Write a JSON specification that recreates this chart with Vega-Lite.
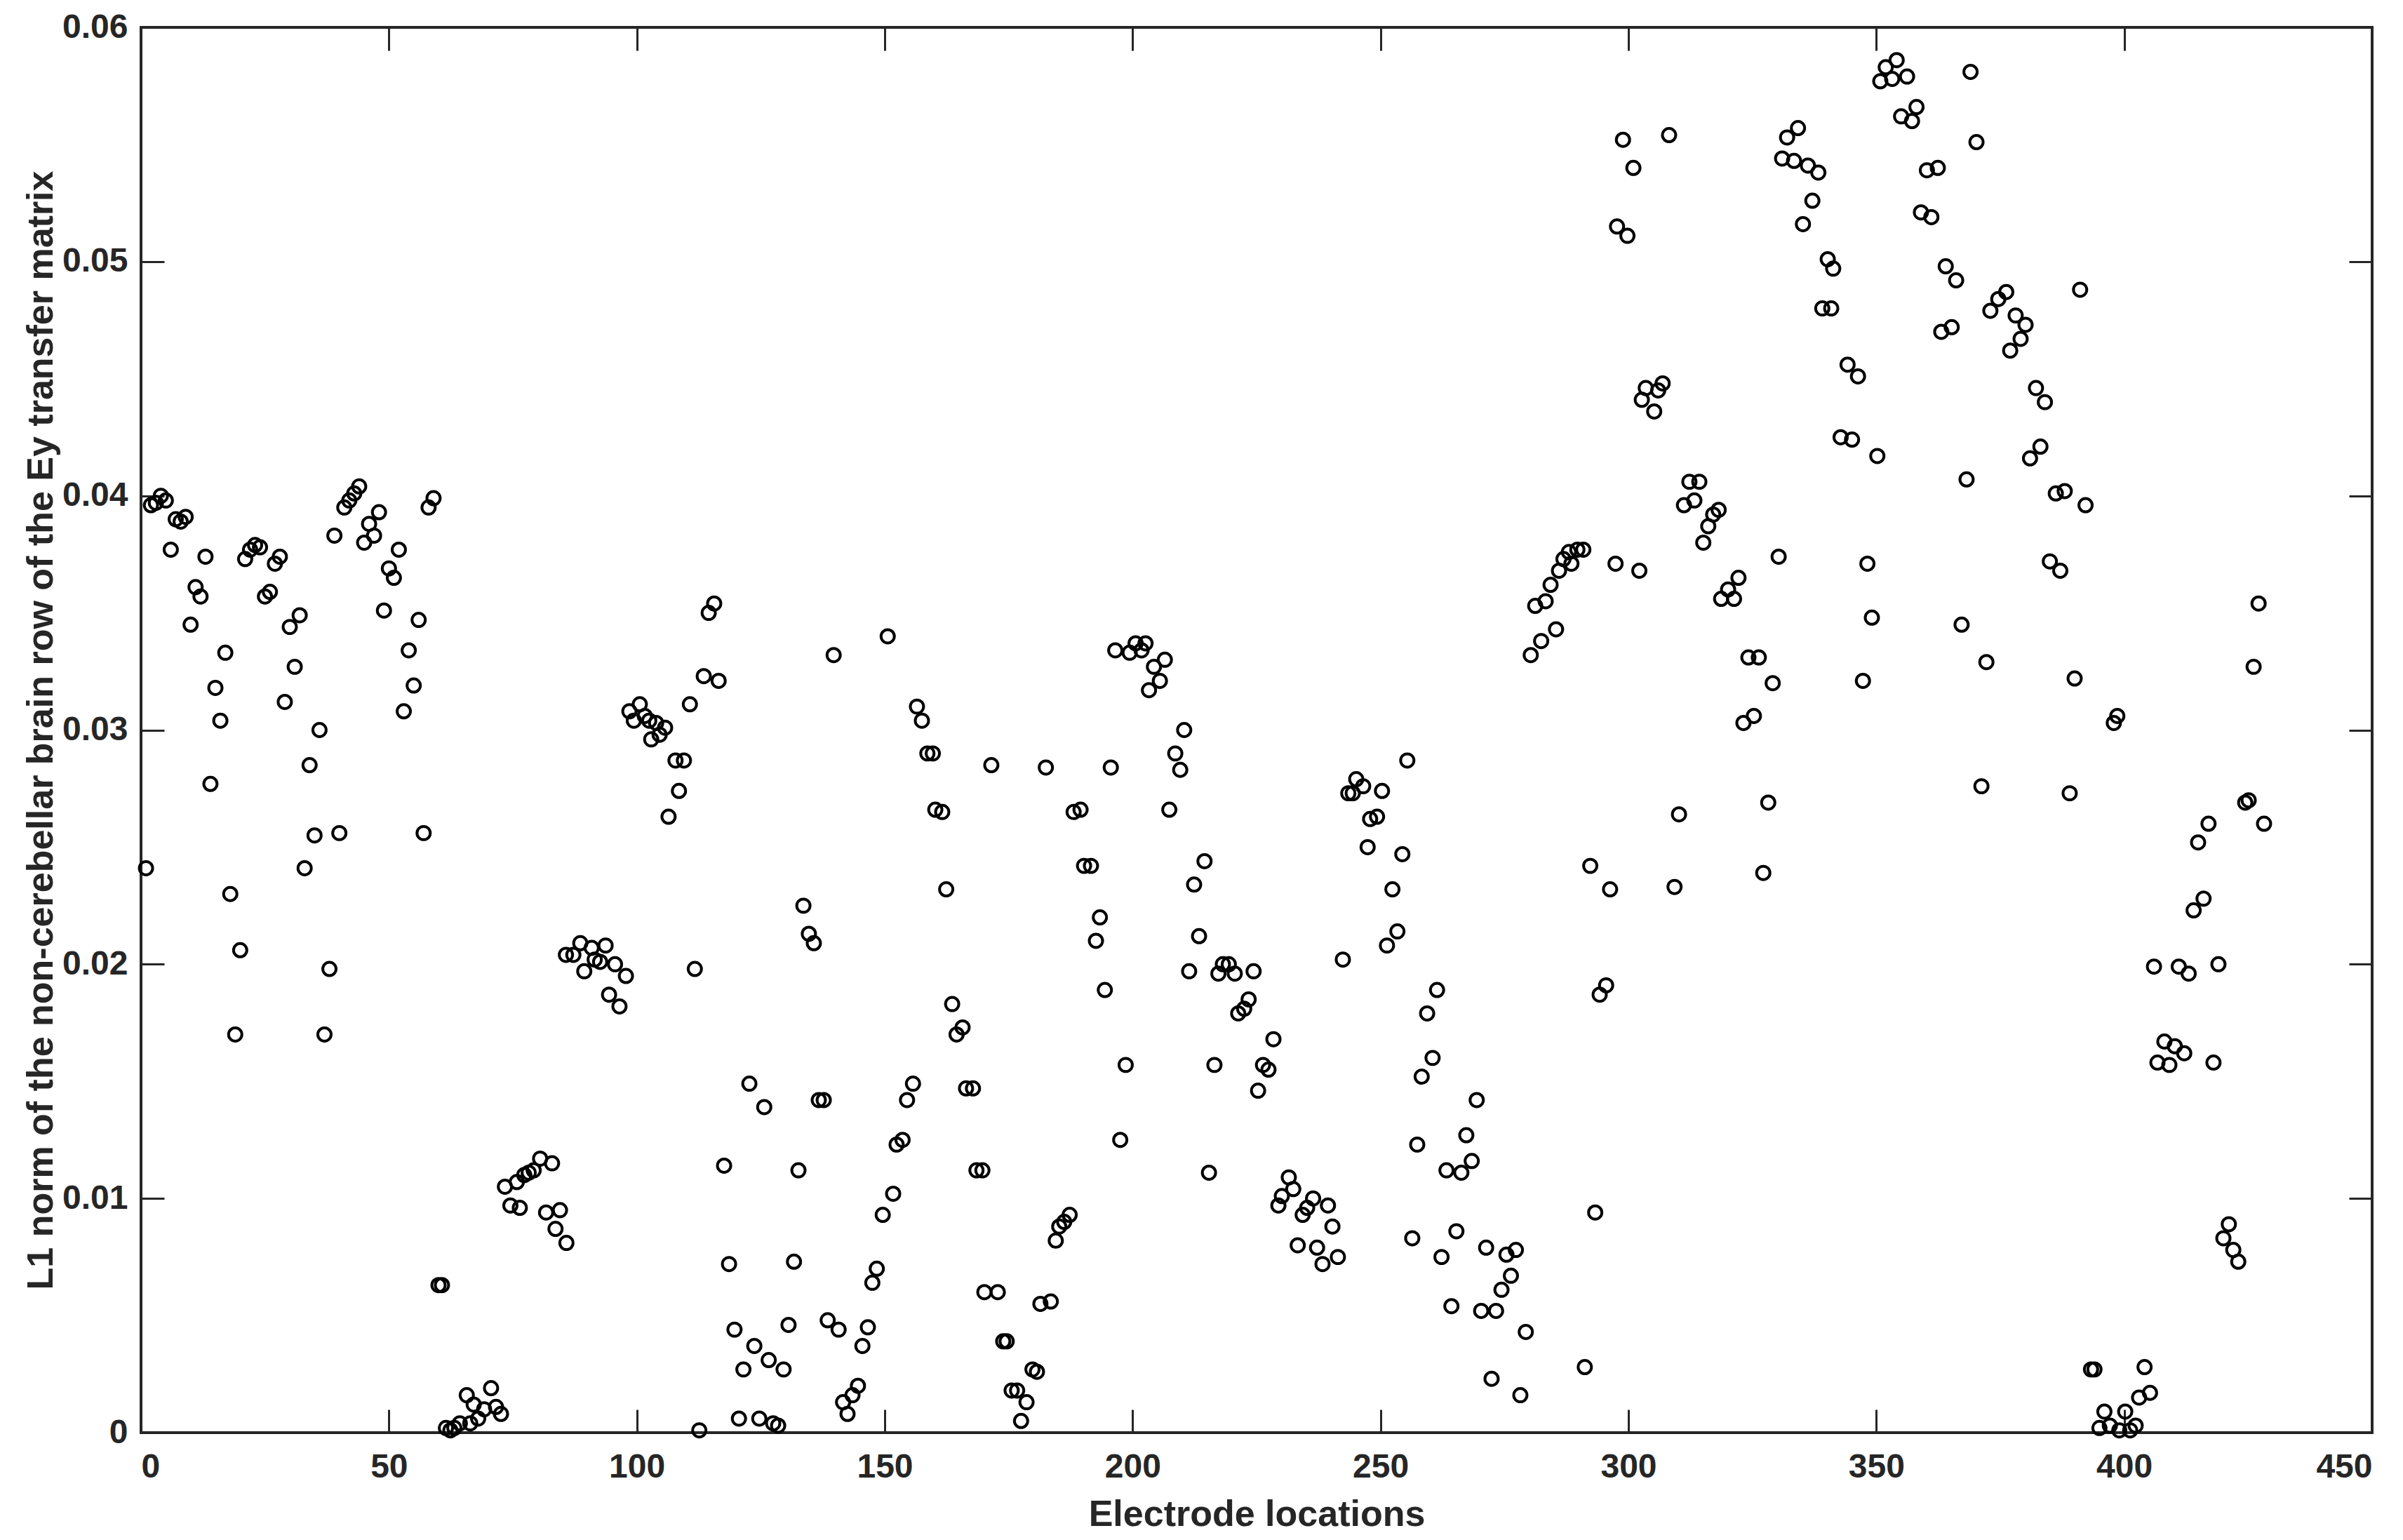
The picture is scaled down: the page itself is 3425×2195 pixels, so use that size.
{
  "$schema": "https://vega.github.io/schema/vega-lite/v6.json",
  "width": 3180,
  "height": 2003,
  "autosize": {"type": "none"},
  "padding": {"left": 201, "top": 39, "right": 44, "bottom": 153},
  "background": "white",
  "data": {"values": [
    {"e":1,"v":0.0241},{"e":2,"v":0.0396},{"e":3,"v":0.0397},{"e":4,"v":0.0400},{"e":5,"v":0.0398},{"e":6,"v":0.0377},{"e":7,"v":0.0390},{"e":8,"v":0.0389},{"e":9,"v":0.0391},{"e":10,"v":0.0345},
    {"e":11,"v":0.0361},{"e":12,"v":0.0357},{"e":13,"v":0.0374},{"e":14,"v":0.0277},{"e":15,"v":0.0318},{"e":16,"v":0.0304},{"e":17,"v":0.0333},{"e":18,"v":0.0230},{"e":19,"v":0.0170},{"e":20,"v":0.0206},
    {"e":21,"v":0.0373},{"e":22,"v":0.0377},{"e":23,"v":0.0379},{"e":24,"v":0.0378},{"e":25,"v":0.0357},{"e":26,"v":0.0359},{"e":27,"v":0.0371},{"e":28,"v":0.0374},{"e":29,"v":0.0312},{"e":30,"v":0.0344},
    {"e":31,"v":0.0327},{"e":32,"v":0.0349},{"e":33,"v":0.0241},{"e":34,"v":0.0285},{"e":35,"v":0.0255},{"e":36,"v":0.0300},{"e":37,"v":0.0170},{"e":38,"v":0.0198},{"e":39,"v":0.0383},{"e":40,"v":0.0256},
    {"e":41,"v":0.0395},{"e":42,"v":0.0398},{"e":43,"v":0.0401},{"e":44,"v":0.0404},{"e":45,"v":0.0380},{"e":46,"v":0.0388},{"e":47,"v":0.0383},{"e":48,"v":0.0393},{"e":49,"v":0.0351},{"e":50,"v":0.0369},
    {"e":51,"v":0.0365},{"e":52,"v":0.0377},{"e":53,"v":0.0308},{"e":54,"v":0.0334},{"e":55,"v":0.0319},{"e":56,"v":0.0347},{"e":57,"v":0.0256},{"e":58,"v":0.0395},{"e":59,"v":0.0399},
    {"e":60.0,"v":0.0063},{"e":60.7,"v":0.0063},
    {"e":61.5,"v":0.0002},{"e":62.4,"v":0.0001},{"e":63.2,"v":0.0002},{"e":64.3,"v":0.0004},{"e":65.7,"v":0.0016},{"e":66.4,"v":0.0004},{"e":67.1,"v":0.0012},{"e":68.0,"v":0.0006},{"e":69.2,"v":0.0010},{"e":70.6,"v":0.0019},{"e":71.6,"v":0.0011},{"e":72.6,"v":0.0008},
    {"e":73.4,"v":0.0105},{"e":74.5,"v":0.0097},{"e":75.8,"v":0.0107},{"e":76.4,"v":0.0096},{"e":77.3,"v":0.0110},{"e":78.2,"v":0.0111},{"e":79.2,"v":0.0112},{"e":80.5,"v":0.0117},{"e":81.7,"v":0.0094},{"e":82.9,"v":0.0115},{"e":83.6,"v":0.0087},{"e":84.5,"v":0.0095},{"e":85.8,"v":0.0081},
    {"e":85.7,"v":0.0204},{"e":87.2,"v":0.0204},{"e":88.6,"v":0.0209},{"e":89.4,"v":0.0197},{"e":90.9,"v":0.0207},{"e":91.5,"v":0.0202},{"e":92.6,"v":0.0201},{"e":93.7,"v":0.0208},{"e":94.4,"v":0.0187},{"e":95.6,"v":0.0200},{"e":96.5,"v":0.0182},{"e":97.8,"v":0.0195},
    {"e":98.5,"v":0.0308},{"e":99.4,"v":0.0304},{"e":100.6,"v":0.0311},{"e":101.6,"v":0.0306},{"e":102.5,"v":0.0304},{"e":102.9,"v":0.0296},{"e":103.9,"v":0.0303},{"e":104.6,"v":0.0298},{"e":105.7,"v":0.0301},{"e":106.4,"v":0.0263},
    {"e":107.8,"v":0.0287},{"e":108.5,"v":0.0274},{"e":109.5,"v":0.0287},{"e":110.7,"v":0.0311},{"e":111.7,"v":0.0198},{"e":112.6,"v":0.0001},{"e":113.5,"v":0.0323},{"e":114.5,"v":0.0350},{"e":115.6,"v":0.0354},{"e":116.5,"v":0.0321},
    {"e":117.6,"v":0.0114},{"e":118.6,"v":0.0072},{"e":119.7,"v":0.0044},
    {"e":120.6,"v":0.0006},{"e":121.5,"v":0.0027},{"e":122.7,"v":0.0149},{"e":123.7,"v":0.0037},{"e":124.7,"v":0.0006},{"e":125.7,"v":0.0139},{"e":126.6,"v":0.0031},{"e":127.5,"v":0.0004},{"e":128.5,"v":0.0003},{"e":129.6,"v":0.0027},
    {"e":130.6,"v":0.0046},{"e":131.7,"v":0.0073},{"e":132.6,"v":0.0112},{"e":133.6,"v":0.0225},{"e":134.7,"v":0.0213},{"e":135.7,"v":0.0209},{"e":136.7,"v":0.0142},{"e":137.7,"v":0.0142},{"e":138.5,"v":0.0048},{"e":139.7,"v":0.0332},
    {"e":140.7,"v":0.0044},{"e":141.6,"v":0.0013},{"e":142.5,"v":0.0008},{"e":143.5,"v":0.0016},{"e":144.6,"v":0.0020},{"e":145.5,"v":0.0037},{"e":146.6,"v":0.0045},{"e":147.5,"v":0.0064},{"e":148.4,"v":0.0070},{"e":149.6,"v":0.0093},
    {"e":150.6,"v":0.0340},{"e":151.7,"v":0.0102},{"e":152.4,"v":0.0123},{"e":153.6,"v":0.0125},{"e":154.5,"v":0.0142},{"e":155.7,"v":0.0149},{"e":156.5,"v":0.0310},{"e":157.5,"v":0.0304},{"e":158.6,"v":0.0290},{"e":159.7,"v":0.0290},
    {"e":160.2,"v":0.0266},{"e":161.6,"v":0.0265},{"e":162.4,"v":0.0232},{"e":163.6,"v":0.0183},{"e":164.5,"v":0.0170},{"e":165.7,"v":0.0173},{"e":166.4,"v":0.0147},{"e":167.8,"v":0.0147},{"e":168.5,"v":0.0112},{"e":169.7,"v":0.0112},
    {"e":170.1,"v":0.0060},{"e":171.5,"v":0.0285},{"e":172.8,"v":0.0060},{"e":173.9,"v":0.0039},{"e":174.6,"v":0.0039},{"e":175.6,"v":0.0018},{"e":176.7,"v":0.0018},{"e":177.5,"v":0.0005},{"e":178.6,"v":0.0013},{"e":179.8,"v":0.0027},
    {"e":180.7,"v":0.0026},{"e":181.4,"v":0.0055},{"e":182.5,"v":0.0284},{"e":183.5,"v":0.0056},{"e":184.5,"v":0.0082},{"e":185.2,"v":0.0088},{"e":186.2,"v":0.0090},{"e":187.3,"v":0.0093},{"e":188.1,"v":0.0265},{"e":189.5,"v":0.0266},
    {"e":190.2,"v":0.0242},{"e":191.6,"v":0.0242},{"e":192.6,"v":0.0210},{"e":193.4,"v":0.0220},{"e":194.4,"v":0.0189},{"e":195.6,"v":0.0284},{"e":196.5,"v":0.0334},{"e":197.5,"v":0.0125},{"e":198.6,"v":0.0157},{"e":199.4,"v":0.0333},
    {"e":200.6,"v":0.0337},{"e":201.8,"v":0.0334},{"e":202.6,"v":0.0337},{"e":203.3,"v":0.0317},{"e":204.3,"v":0.0327},{"e":205.5,"v":0.0321},{"e":206.5,"v":0.0330},{"e":207.4,"v":0.0266},{"e":208.6,"v":0.0290},{"e":209.6,"v":0.0283},
    {"e":210.4,"v":0.0300},{"e":211.4,"v":0.0197},{"e":212.4,"v":0.0234},{"e":213.4,"v":0.0212},{"e":214.5,"v":0.0244},{"e":215.4,"v":0.0111},{"e":216.5,"v":0.0157},{"e":217.3,"v":0.0196},{"e":218.2,"v":0.0200},{"e":219.4,"v":0.0200},
    {"e":220.6,"v":0.0196},{"e":221.3,"v":0.0179},{"e":222.5,"v":0.0181},{"e":223.4,"v":0.0185},{"e":224.4,"v":0.0197},{"e":225.3,"v":0.0146},{"e":226.3,"v":0.0157},{"e":227.4,"v":0.0155},{"e":228.4,"v":0.0168},{"e":229.4,"v":0.0097},
    {"e":230.1,"v":0.0101},{"e":231.5,"v":0.0109},{"e":232.4,"v":0.0104},{"e":233.3,"v":0.0080},{"e":234.3,"v":0.0093},{"e":235.2,"v":0.0096},{"e":236.4,"v":0.0100},{"e":237.2,"v":0.0079},{"e":238.3,"v":0.0072},{"e":239.4,"v":0.0097},
    {"e":240.3,"v":0.0088},{"e":241.4,"v":0.0075},{"e":242.4,"v":0.0202},{"e":243.5,"v":0.0273},{"e":244.4,"v":0.0273},{"e":245.1,"v":0.0279},{"e":246.5,"v":0.0276},{"e":247.4,"v":0.0250},{"e":247.9,"v":0.0262},{"e":249.3,"v":0.0263},
    {"e":250.3,"v":0.0274},{"e":251.3,"v":0.0208},{"e":252.4,"v":0.0232},{"e":253.4,"v":0.0214},{"e":254.4,"v":0.0247},{"e":255.4,"v":0.0287},{"e":256.4,"v":0.0083},{"e":257.4,"v":0.0123},{"e":258.3,"v":0.0152},{"e":259.4,"v":0.0179},
    {"e":260.5,"v":0.0160},{"e":261.4,"v":0.0189},{"e":262.3,"v":0.0075},{"e":263.3,"v":0.0112},{"e":264.3,"v":0.0054},{"e":265.3,"v":0.0086},{"e":266.3,"v":0.0111},{"e":267.3,"v":0.0127},{"e":268.4,"v":0.0116},{"e":269.4,"v":0.0142},
    {"e":270.3,"v":0.0052},{"e":271.3,"v":0.0079},{"e":272.4,"v":0.0023},{"e":273.3,"v":0.0052},{"e":274.4,"v":0.0061},{"e":275.4,"v":0.0076},{"e":276.3,"v":0.0067},{"e":277.3,"v":0.0078},{"e":278.2,"v":0.0016},{"e":279.3,"v":0.0043},
    {"e":280.3,"v":0.0332},{"e":281.2,"v":0.0353},{"e":282.4,"v":0.0338},{"e":283.3,"v":0.0355},{"e":284.3,"v":0.0362},{"e":285.4,"v":0.0343},{"e":286.0,"v":0.0368},{"e":286.9,"v":0.0373},{"e":288.0,"v":0.0376},{"e":288.5,"v":0.0371},
    {"e":289.7,"v":0.0377},{"e":290.9,"v":0.0377},{"e":291.2,"v":0.0028},{"e":292.3,"v":0.0242},{"e":293.3,"v":0.0094},{"e":294.2,"v":0.0187},{"e":295.5,"v":0.0191},{"e":296.3,"v":0.0232},{"e":297.4,"v":0.0371},{"e":297.7,"v":0.0515},
    {"e":298.9,"v":0.0552},{"e":299.8,"v":0.0511},{"e":301.0,"v":0.0540},{"e":302.2,"v":0.0368},{"e":302.7,"v":0.0441},{"e":303.5,"v":0.0446},{"e":305.2,"v":0.0436},{"e":306.0,"v":0.0445},{"e":306.9,"v":0.0448},{"e":308.2,"v":0.0554},
    {"e":309.3,"v":0.0233},{"e":310.2,"v":0.0264},{"e":311.2,"v":0.0396},{"e":312.3,"v":0.0406},{"e":313.3,"v":0.0398},{"e":314.3,"v":0.0406},{"e":315.1,"v":0.0380},{"e":316.1,"v":0.0387},{"e":317.1,"v":0.0392},{"e":318.2,"v":0.0394},
    {"e":318.7,"v":0.0356},{"e":320.1,"v":0.0360},{"e":321.3,"v":0.0356},{"e":322.2,"v":0.0365},{"e":323.2,"v":0.0303},{"e":324.2,"v":0.0331},{"e":325.3,"v":0.0306},{"e":326.3,"v":0.0331},{"e":327.2,"v":0.0239},{"e":328.2,"v":0.0269},
    {"e":329.1,"v":0.0320},{"e":330.3,"v":0.0374},{"e":331.0,"v":0.0544},{"e":332.0,"v":0.0553},{"e":333.4,"v":0.0543},{"e":334.2,"v":0.0557},{"e":335.2,"v":0.0516},{"e":336.2,"v":0.0541},{"e":337.1,"v":0.0526},{"e":338.3,"v":0.0538},
    {"e":339.1,"v":0.0480},{"e":340.2,"v":0.0501},{"e":340.9,"v":0.0480},{"e":341.3,"v":0.0497},{"e":342.8,"v":0.0425},{"e":344.2,"v":0.0456},{"e":345.1,"v":0.0424},{"e":346.3,"v":0.0451},{"e":347.3,"v":0.0321},{"e":348.2,"v":0.0371},
    {"e":349.1,"v":0.0348},{"e":350.2,"v":0.0417},{"e":350.8,"v":0.0577},{"e":351.9,"v":0.0583},{"e":353.2,"v":0.0578},{"e":354.1,"v":0.0586},{"e":355.0,"v":0.0562},{"e":356.2,"v":0.0579},{"e":357.2,"v":0.0560},{"e":358.1,"v":0.0566},
    {"e":359.0,"v":0.0521},{"e":360.2,"v":0.0539},{"e":361.1,"v":0.0519},{"e":362.4,"v":0.0540},{"e":363.1,"v":0.0470},{"e":364.0,"v":0.0498},{"e":365.2,"v":0.0472},{"e":366.1,"v":0.0492},{"e":367.2,"v":0.0345},{"e":368.2,"v":0.0407},
    {"e":369.0,"v":0.0581},{"e":370.2,"v":0.0551},{"e":371.2,"v":0.0276},{"e":372.2,"v":0.0329},{"e":373.0,"v":0.0479},{"e":374.6,"v":0.0484},{"e":376.2,"v":0.0487},{"e":377.0,"v":0.0462},{"e":378.1,"v":0.0477},{"e":379.1,"v":0.0467},
    {"e":380.1,"v":0.0473},{"e":381.0,"v":0.0416},{"e":382.2,"v":0.0446},{"e":383.1,"v":0.0421},{"e":384.0,"v":0.0440},{"e":385.0,"v":0.0372},{"e":386.2,"v":0.0401},{"e":387.1,"v":0.0368},{"e":388.0,"v":0.0402},{"e":389.0,"v":0.0273},
    {"e":390.0,"v":0.0322},{"e":391.1,"v":0.0488},{"e":392.2,"v":0.0396},{"e":393.3,"v":0.0027},{"e":394.0,"v":0.0027},{"e":395.0,"v":0.0002},{"e":396.0,"v":0.0009},{"e":397.1,"v":0.0003},{"e":397.9,"v":0.0303},{"e":398.6,"v":0.0306},
    {"e":399.0,"v":0.0001},{"e":400.2,"v":0.0009},{"e":401.2,"v":0.0001},{"e":402.3,"v":0.0003},{"e":403.0,"v":0.0015},{"e":404.1,"v":0.0028},{"e":405.2,"v":0.0017},{"e":406.0,"v":0.0199},{"e":406.7,"v":0.0158},{"e":408.1,"v":0.0167},
    {"e":409.1,"v":0.0157},{"e":410.2,"v":0.0165},{"e":411.0,"v":0.0199},{"e":412.1,"v":0.0162},{"e":413.0,"v":0.0196},{"e":414.0,"v":0.0223},{"e":414.9,"v":0.0252},{"e":416.0,"v":0.0228},{"e":417.0,"v":0.0260},{"e":418.0,"v":0.0158},
    {"e":419.0,"v":0.0200},{"e":420.0,"v":0.0083},{"e":421.1,"v":0.0089},{"e":422.0,"v":0.0078},{"e":423.0,"v":0.0073},{"e":424.4,"v":0.0269},{"e":425.1,"v":0.0270},{"e":426.1,"v":0.0327},{"e":427.1,"v":0.0354},{"e":428.2,"v":0.0260}
  ]},
  "layer": [
    {
      "mark": {"type": "point", "shape": "circle", "filled": false, "stroke": "black", "strokeWidth": 4, "size": 360, "opacity": 1},
      "encoding": {
        "x": {"field": "e", "type": "quantitative", "scale": {"domain": [0, 450], "nice": false, "zero": false},
              "axis": {"orient": "bottom", "values": [0, 50, 100, 150, 200, 250, 300, 350, 400, 450], "title": "Electrode locations", "titlePadding": 18, "labelPadding": 58}},
        "y": {"field": "v", "type": "quantitative", "scale": {"domain": [0, 0.06], "nice": false, "zero": false},
              "axis": {"orient": "left", "values": [0, 0.01, 0.02, 0.03, 0.04, 0.05, 0.06], "format": "~g", "title": "L1 norm of the non-cerebellar brain row of the Ey transfer matrix", "titlePadding": 3, "labelPadding": 52}}
      }
    },
    {
      "mark": {"type": "point", "opacity": 0},
      "encoding": {
        "x": {"field": "e", "type": "quantitative", "scale": {"domain": [0, 450], "nice": false, "zero": false},
              "axis": {"orient": "top", "values": [0, 50, 100, 150, 200, 250, 300, 350, 400, 450], "labels": false, "title": null}},
        "y": {"field": "v", "type": "quantitative", "scale": {"domain": [0, 0.06], "nice": false, "zero": false},
              "axis": {"orient": "right", "values": [0, 0.01, 0.02, 0.03, 0.04, 0.05, 0.06], "labels": false, "title": null}}
      }
    }
  ],
  "resolve": {"axis": {"x": "independent", "y": "independent"}},
  "config": {
    "view": {"stroke": "#262626", "strokeWidth": 4, "fill": "white"},
    "axis": {
      "domain": false,
      "grid": false,
      "ticks": true,
      "tickColor": "#262626",
      "tickWidth": 3,
      "tickSize": -33,
      "labelFont": "Liberation Sans",
      "labelFontSize": 48,
      "labelFontWeight": "bold",
      "labelColor": "#262626",
      "titleFont": "Liberation Sans",
      "titleFontSize": 52,
      "titleFontWeight": "bold",
      "titleColor": "#262626"
    }
  }
}
